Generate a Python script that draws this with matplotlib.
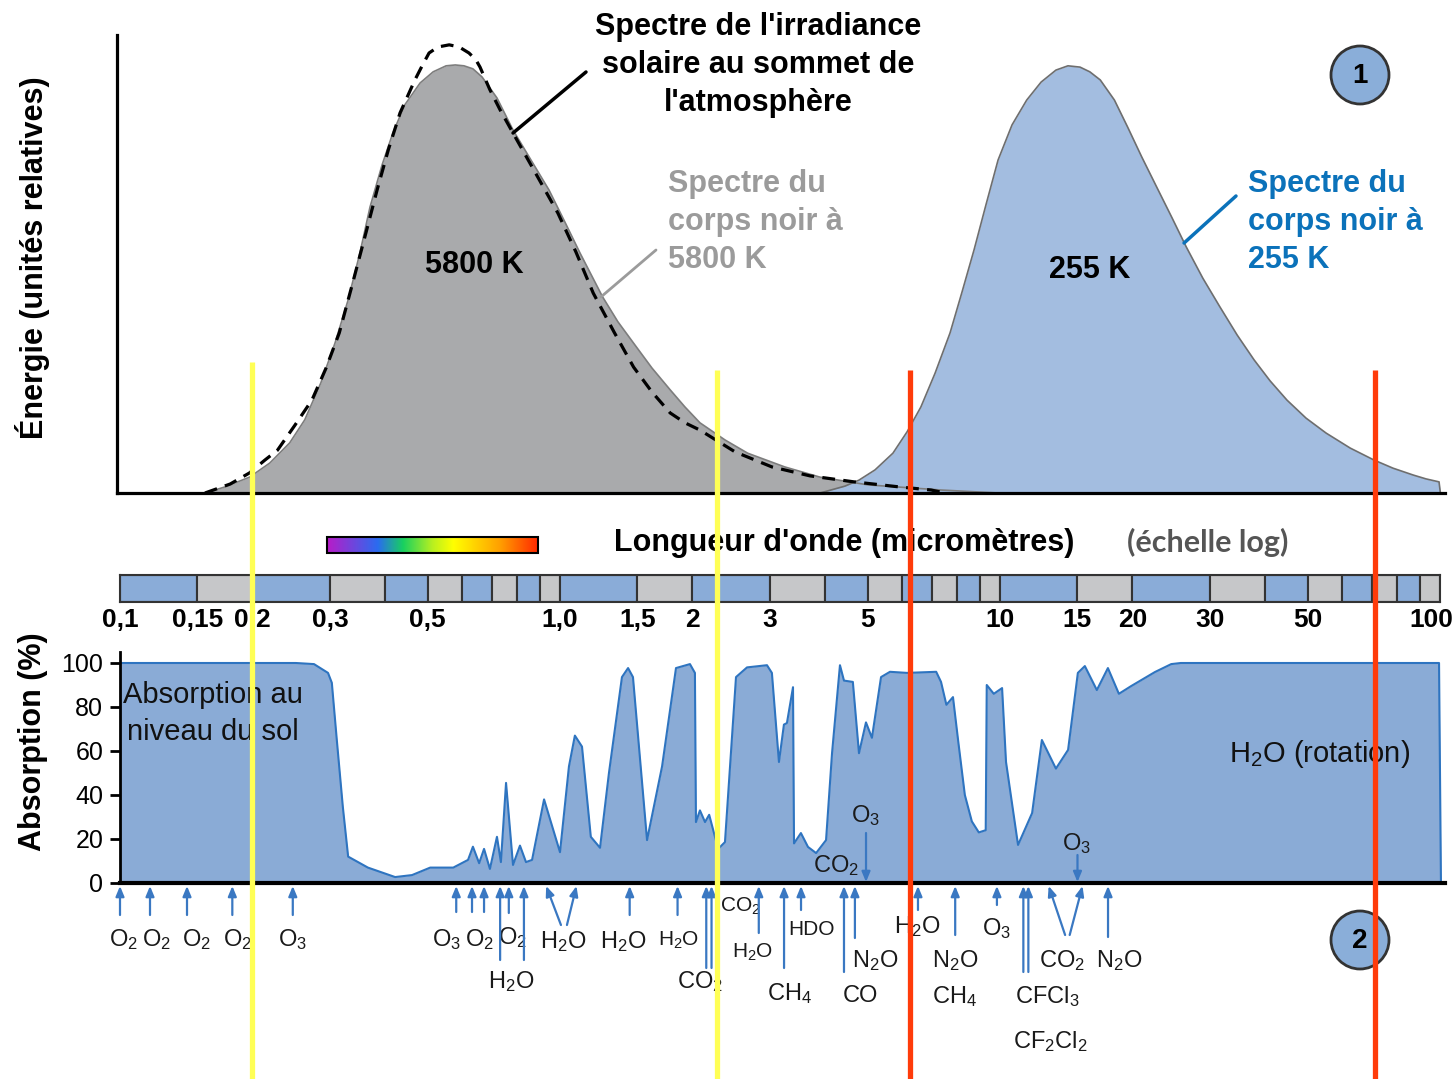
import numpy as np
import matplotlib
matplotlib.use("Agg")
import matplotlib.pyplot as plt
from matplotlib import transforms
from matplotlib.patches import Circle, Rectangle
from matplotlib.colors import LinearSegmentedColormap

plt.rcParams["font.family"] = ["Liberation Sans", "DejaVu Sans"]
plt.rcParams["mathtext.fontset"] = "custom"
plt.rcParams["mathtext.rm"] = "Liberation Sans"
plt.rcParams["mathtext.it"] = "Liberation Sans:italic"
plt.rcParams["mathtext.bf"] = "Liberation Sans:bold"

W, H = 1455, 1079

# ---- data ----
# black body 5800 K (grey area), wavelength in micrometres, relative energy
bb5800_wl = [0.156, 0.173, 0.197, 0.219, 0.243, 0.263, 0.286, 0.308, 0.330, 0.351,
             0.370, 0.394, 0.417, 0.444, 0.481, 0.515, 0.551, 0.578, 0.605, 0.634,
             0.665, 0.719, 0.782, 0.859, 0.944, 1.026, 1.11, 1.25, 1.354, 1.47,
             1.618, 1.78, 1.923, 2.08, 2.371, 2.67, 3.24, 3.90, 5.01, 7.34, 9.9]
bb5800_e = [0.0, 0.014, 0.037, 0.070, 0.117, 0.171, 0.257, 0.350, 0.451, 0.561,
            0.668, 0.766, 0.841, 0.907, 0.958, 0.984, 0.998, 1.0, 0.998, 0.991,
            0.972, 0.923, 0.848, 0.778, 0.708, 0.633, 0.561, 0.458, 0.400, 0.350,
            0.292, 0.241, 0.201, 0.164, 0.124, 0.093, 0.061, 0.037, 0.019, 0.007, 0.0]

# solar irradiance at top of atmosphere (dashed)
toa_wl = [0.156, 0.178, 0.197, 0.2135, 0.228, 0.250, 0.273, 0.294, 0.315, 0.337,
          0.362, 0.384, 0.407, 0.433, 0.468, 0.486, 0.504, 0.528, 0.560, 0.590,
          0.621, 0.644, 0.658, 0.693, 0.731, 0.782, 0.877, 0.989, 1.087, 1.19,
          1.327, 1.47, 1.618, 1.78, 1.923, 2.08, 2.50, 3.03, 3.70, 4.66, 5.93, 6.97, 7.50]
toa_e = [0.0, 0.021, 0.047, 0.077, 0.100, 0.159, 0.217, 0.292, 0.374, 0.486,
         0.607, 0.708, 0.801, 0.888, 0.965, 0.998, 1.028, 1.042, 1.047, 1.042,
         1.028, 1.012, 0.995, 0.942, 0.895, 0.841, 0.750, 0.654, 0.563, 0.467,
         0.376, 0.294, 0.236, 0.187, 0.164, 0.147, 0.096, 0.061, 0.040, 0.026, 0.014,
         0.007, 0.0]

# black body 255 K (blue area)
bb255_wl = [3.90, 4.44, 4.78, 5.20, 5.71, 6.15, 6.61, 7.12, 7.70, 8.20, 8.73, 9.29,
            9.90, 10.65, 11.5, 12.4, 13.4, 14.27, 15.2, 16.0, 16.9, 18.2, 19.5, 21.0,
            22.7, 24.6, 26.5, 28.9, 31.6, 34.6, 37.8, 41.1, 44.9, 49.6, 55.1, 62.5,
            70.8, 78.2, 86.9, 92.9, 99.5, 100.2]
bb255_e = [0.0, 0.016, 0.030, 0.054, 0.093, 0.143, 0.201, 0.280, 0.374, 0.470, 0.568,
           0.673, 0.778, 0.860, 0.918, 0.960, 0.988, 0.998, 0.995, 0.984, 0.965, 0.918,
           0.855, 0.785, 0.715, 0.643, 0.575, 0.502, 0.435, 0.369, 0.311, 0.262, 0.217,
           0.175, 0.140, 0.105, 0.077, 0.058, 0.042, 0.033, 0.026, 0.0]

# wavelength scale bar
band_edges = [0.1, 0.15, 0.2, 0.3, 0.4, 0.5, 0.6, 0.7, 0.8, 0.9, 1.0, 1.5, 2, 3, 4, 5,
              6, 7, 8, 9, 10, 15, 20, 30, 40, 50, 60, 70, 80, 90, 100]
band_colors = ["b", "g"] * 15
tick_wl = [0.1, 0.15, 0.2, 0.3, 0.5, 1.0, 1.5, 2, 3, 5, 10, 15, 20, 30, 50, 100]
tick_labels = ["0,1", "0,15", "0,2", "0,3", "0,5", "1,0", "1,5", "2", "3", "5",
               "10", "15", "20", "30", "50", "100"]

# ground-level absorption (%)
abs_wl = [0.1, 0.251, 0.276, 0.297, 0.303, 0.311, 0.321, 0.330, 0.366, 0.422, 0.461,
          0.507, 0.572, 0.618, 0.634, 0.655, 0.672, 0.693, 0.719, 0.734, 0.754, 0.782,
          0.811, 0.837, 0.864, 0.920, 1.0, 1.048, 1.081, 1.122, 1.175, 1.233, 1.292,
          1.383, 1.428, 1.465, 1.577, 1.706, 1.835, 1.974, 2.026, 2.037, 2.080, 2.136,
          2.183, 2.288, 2.371, 2.512, 2.661, 2.954, 3.031, 3.145, 3.228, 3.279, 3.385,
          3.403, 3.528, 3.661, 3.820, 4.024, 4.152, 4.328, 4.420, 4.630, 4.781, 4.959,
          5.116, 5.366, 5.623, 6.148, 7.161, 7.345, 7.554, 7.819, 8.03, 8.32, 8.63,
          8.95, 9.28, 9.33, 9.68, 10.11, 10.32, 10.99, 11.83, 12.45, 13.40, 14.28,
          15.03, 15.59, 16.60, 17.59, 18.63, 19.86, 22.5, 24.5, 25.76, 99.5, 100.5]
abs_pct = [100, 100, 99.5, 95.5, 91, 65, 34.5, 12, 7, 2.7, 3.6,
           7, 7, 10.5, 16.5, 9, 15.5, 6.4, 21, 9.5, 45.5, 8.2,
           17, 9.5, 10.5, 38, 14, 53, 67, 62, 21, 16, 50,
           93.6, 97.7, 93.6, 19.5, 53, 97.7, 99.5, 95.5, 27.7, 33, 27.7,
           31, 15.5, 18.6, 93.6, 98, 99, 95.5, 55, 72, 72.7, 89,
           18, 22.7, 16.4, 13.6, 19.5, 59, 99, 92, 91.4, 59, 73,
           66, 93.6, 96, 95.5, 96, 91.4, 81, 84.5, 65, 40, 28,
           23, 24, 90, 86, 88.6, 55, 17.3, 31.8, 65, 52, 60.5,
           95.5, 98.6, 87.7, 97.7, 86, 89.5, 95.9, 99.5, 100, 100, 0]

# absorption band arrows: head wavelength, tail wavelength
arrow_head = [0.1, 0.117, 0.142, 0.180, 0.247, 0.581, 0.631, 0.672, 0.731, 0.765, 0.828,
              0.930, 1.09, 1.44, 1.85, 2.15, 2.21, 2.83, 3.23, 3.53, 4.42, 4.68, 6.51,
              7.91, 9.84, 11.3, 11.6, 12.9, 15.4, 17.6]
arrow_tail = [0.1, 0.117, 0.142, 0.180, 0.247, 0.581, 0.631, 0.672, 0.731, 0.765, 0.828,
              1.005, 1.037, 1.44, 1.85, 2.15, 2.21, 2.83, 3.23, 3.53, 4.42, 4.68, 6.51,
              7.91, 9.84, 11.3, 11.6, 14.06, 14.4, 17.6]
arrow_tail_y = [915, 915, 915, 915, 915, 912, 912, 912, 960, 913, 960,
                925, 925, 915, 915, 968, 968, 933, 968, 910, 972, 938, 910,
                935, 905, 972, 972, 935, 935, 937]
ozone_wl = [4.96, 15.0]

highlight_wl = [0.2, 2.28, 6.24, 71]
highlight_col = ["#ffff55", "#ffff55", "#ff3b0a", "#ff3b0a"]
highlight_top = [362, 370, 370, 370]


def wl_at(px):
    # horizontal scale of the picture: 0.1 um at x=120, 440 px per decade
    return 10 ** ((px - 120) / 440 - 1)


fig = plt.figure(figsize=(W / 100, H / 100), dpi=100)


def px_axes(x0, y0, x1, y1):
    return fig.add_axes([x0 / W, 1 - y1 / H, (x1 - x0) / W, (y1 - y0) / H])


# ---- top panel: spectra ----
ax_top = px_axes(117, 35, 1445, 493)
ax_top.set_xscale("log")
ax_top.set_xlim(wl_at(117), wl_at(1445))
ax_top.set_ylim(0, 1.07)
ax_top.fill_between(bb5800_wl, bb5800_e, color="#a9aaac", lw=0)
ax_top.plot(bb5800_wl, bb5800_e, color="#7d7d7d", lw=1.2)
ax_top.fill_between(bb255_wl, bb255_e, color="#a3bde0", lw=0)
ax_top.plot(bb255_wl, bb255_e, color="#6e6e6e", lw=1.2)
ax_top.plot(toa_wl, toa_e, color="black", lw=2.3, ls=(0, (4, 2.6)))
for s in ["top", "right"]:
    ax_top.spines[s].set_visible(False)
for s in ["left", "bottom"]:
    ax_top.spines[s].set_linewidth(2.3)
ax_top.set_xticks([])
ax_top.set_yticks([])
ax_top.minorticks_off()

# ---- wavelength bar ----
ax_bar = px_axes(120, 575, 1440, 602)
ax_bar.set_xscale("log")
ax_bar.set_xlim(0.1, 100)
ax_bar.set_ylim(0, 1)
for i in range(len(band_edges) - 1):
    fc = "#8aacd8" if band_colors[i] == "b" else "#c6c7c9"
    ax_bar.axvspan(band_edges[i], band_edges[i + 1], facecolor=fc,
                   edgecolor="#333333", lw=1.5)
ax_bar.set_xticks(tick_wl)
ax_bar.set_xticklabels(tick_labels, fontsize=19, fontweight="bold")
ax_bar.minorticks_off()
ax_bar.tick_params(axis="x", length=0, pad=4)
ax_bar.set_yticks([])
for s in ax_bar.spines.values():
    s.set_linewidth(1.5)
    s.set_color("#333333")
# the last label sits at the right edge of the picture: keep it inside
last = ax_bar.xaxis.get_major_ticks()[-1].label1
last.set_horizontalalignment("right")
last.set_transform(last.get_transform()
                   + transforms.ScaledTranslation(0.13, 0, fig.dpi_scale_trans))

# ---- absorption panel ----
ax_abs = px_axes(120, 652, 1445, 883)
ax_abs.set_xscale("log")
ax_abs.set_xlim(0.1, wl_at(1445))
ax_abs.set_ylim(0, 105)
ax_abs.fill_between(abs_wl, abs_pct, color="#8aabd6", lw=0)
ax_abs.plot(abs_wl, abs_pct, color="#2e74c0", lw=1.5)
ax_abs.set_xticks([])
ax_abs.minorticks_off()
ax_abs.set_yticks([0, 20, 40, 60, 80, 100])
ax_abs.tick_params(axis="y", length=7, width=2, pad=5, labelsize=18, direction="out")
for s in ["top", "right"]:
    ax_abs.spines[s].set_visible(False)
ax_abs.spines["left"].set_linewidth(2)
ax_abs.spines["bottom"].set_linewidth(3)

# ---- overlay in pixel coordinates ----
ov = fig.add_axes([0, 0, 1, 1])
ov.set_autoscale_on(False)
ov.set_xlim(0, W)
ov.set_ylim(H, 0)
ov.axis("off")
wl_y = transforms.blended_transform_factory(ax_abs.transData, ov.transData)

# top panel texts
for line, y in zip(["Spectre de l'irradiance", "solaire au sommet de", "l'atmosphère"],
                   [35, 73, 111]):
    ov.text(758, y, line, ha="center", va="baseline", fontsize=22, fontweight="bold")
for line, y in zip(["Spectre du", "corps noir à", "5800 K"], [192, 230, 268]):
    ov.text(668, y, line, ha="left", va="baseline", fontsize=22, fontweight="bold",
            color="#9b9b9b")
for line, y in zip(["Spectre du", "corps noir à", "255 K"], [192, 230, 268]):
    ov.text(1248, y, line, ha="left", va="baseline", fontsize=22, fontweight="bold",
            color="#0b72ba")
ov.text(474, 273, "5800 K", ha="center", va="baseline", fontsize=22, fontweight="bold")
ov.text(1090, 278, "255 K", ha="center", va="baseline", fontsize=22, fontweight="bold")
ov.text(33, 258, "Énergie (unités relatives)", rotation=90, ha="center", va="center",
        fontsize=22, fontweight="bold")

leader = dict(arrowstyle="-", shrinkA=0, shrinkB=0)
ov.annotate("", xy=(0.782, 0.841), xycoords=ax_top.transData, xytext=(586, 72),
            textcoords=ov.transData, arrowprops=dict(leader, color="black", lw=2.5))
ov.annotate("", xy=(1.239, 0.458), xycoords=ax_top.transData, xytext=(656, 250),
            textcoords=ov.transData, arrowprops=dict(leader, color="#9b9b9b", lw=2))
ov.annotate("", xy=(26.2, 0.584), xycoords=ax_top.transData, xytext=(1236, 196),
            textcoords=ov.transData, arrowprops=dict(leader, color="#0b72ba", lw=2.5))

# numbered circles
for (cx, cy), num in [((1360, 75), "1"), ((1360, 940), "2")]:
    ov.add_patch(Circle((cx, cy), 29, fc="#8aaed9", ec="#333333", lw=2))
    ov.text(cx, cy + 1, num, ha="center", va="center", fontsize=20, fontweight="bold")

# rainbow + axis title
rainbow = LinearSegmentedColormap.from_list(
    "rb", [(0, "#b81cc8"), (0.24, "#2a6cf0"), (0.36, "#18d060"), (0.5, "#b8f020"),
           (0.6, "#ffff00"), (0.82, "#ffa000"), (1, "#ff2a00")])
ov.imshow(np.linspace(0, 1, 256)[None, :], cmap=rainbow, extent=(327, 538, 553, 537),
          aspect="auto")
ov.add_patch(Rectangle((327, 537), 211, 16, fill=False, ec="black", lw=1.5))
ov.text(614, 551, "Longueur d'onde (micromètres)", ha="left", va="baseline",
        fontsize=22, fontweight="bold")
ov.text(1127, 552, "(échelle log)", ha="left", va="baseline", fontsize=22,
        fontweight="bold", color="#555555", family=["Lato", "DejaVu Sans"])

# absorption panel texts
ov.text(33, 742, "Absorption (%)", rotation=90, ha="center", va="center",
        fontsize=22, fontweight="bold")
ov.text(123, 703, "Absorption au", ha="left", va="baseline", fontsize=21, color="#111111")
ov.text(127, 740, "niveau du sol", ha="left", va="baseline", fontsize=21, color="#111111")
ov.text(1229, 762, "H$_2$O (rotation)", ha="left", va="baseline", fontsize=21,
        color="#111111")

mol_labels = [
    ("O$_2$", 123, 946, 17), ("O$_2$", 156, 946, 17), ("O$_2$", 196, 946, 17),
    ("O$_2$", 237, 946, 17), ("O$_3$", 293, 946, 17), ("O$_3$", 447, 946, 17),
    ("O$_2$", 479, 946, 17), ("O$_2$", 512, 944, 17), ("H$_2$O", 563, 948, 17),
    ("H$_2$O", 623, 948, 17), ("H$_2$O", 679, 946, 15), ("H$_2$O", 511, 988, 17),
    ("CO$_2$", 700, 988, 17), ("CO$_2$", 740, 912, 15), ("H$_2$O", 753, 958, 15),
    ("HDO", 812, 935, 15), ("CH$_4$", 790, 1000, 17), ("N$_2$O", 875, 967, 17),
    ("CO", 860, 1002, 17), ("H$_2$O", 917, 933, 17), ("N$_2$O", 955, 967, 17),
    ("CH$_4$", 955, 1003, 17), ("O$_3$", 997, 935, 17), ("CFCl$_3$", 1047, 1003, 17),
    ("CF$_2$Cl$_2$", 1050, 1048, 17), ("CO$_2$", 1062, 967, 17),
    ("N$_2$O", 1119, 967, 17), ("O$_3$", 866, 822, 17), ("CO$_2$", 836, 872, 17),
    ("O$_3$", 1077, 850, 17),
]
for txt, x, y, fs in mol_labels:
    ov.text(x, y, txt, ha="center", va="baseline", fontsize=fs, color="#1a1a1a")

arrow_style = dict(arrowstyle="-|>,head_length=0.6,head_width=0.25", color="#3a78c2",
                   lw=1.6, shrinkA=0, shrinkB=0)
for head, tail, ty in zip(arrow_head, arrow_tail, arrow_tail_y):
    ov.annotate("", xy=(head, 886), xycoords=wl_y, xytext=(tail, ty), textcoords=wl_y,
                arrowprops=arrow_style)
for w, ty in zip(ozone_wl, [833, 855]):
    ov.annotate("", xy=(w, 882), xycoords=wl_y, xytext=(w, ty), textcoords=wl_y,
                arrowprops=arrow_style)

# highlight lines drawn on top
for w, c, top in zip(highlight_wl, highlight_col, highlight_top):
    ov.plot([w, w], [top, H], transform=wl_y, color=c, lw=3.8, solid_capstyle="butt",
            clip_on=False, zorder=20)

ov.set_xlim(0, W)
ov.set_ylim(H, 0)
fig.savefig("out.png", dpi=100)
